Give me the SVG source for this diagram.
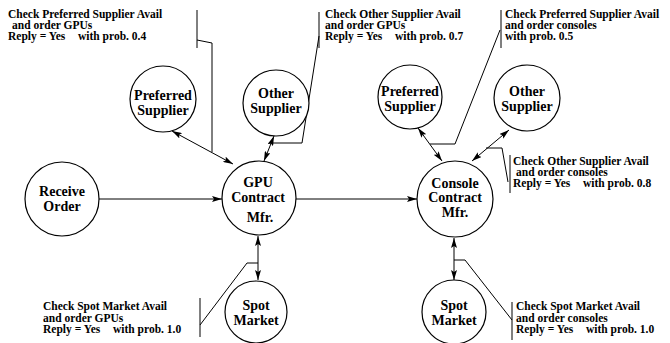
<svg xmlns="http://www.w3.org/2000/svg" width="670" height="343" viewBox="0 0 670 343">
<style>
.node circle{fill:#fff;stroke:#000;stroke-width:1.2}
.lbl{font-family:"Liberation Serif","Times New Roman",serif;font-weight:bold;font-size:14px;text-anchor:middle;fill:#000}
.note{font-family:"Liberation Serif","Times New Roman",serif;font-weight:bold;font-size:11.5px;fill:#000}
.conn line,.conn polyline{fill:none;stroke:#000;stroke-width:1}
.bar{stroke:#222;stroke-width:1.4}
</style>
<defs>
<marker id="ah" viewBox="0 0 10 6" refX="10" refY="3" markerWidth="10" markerHeight="6" markerUnits="userSpaceOnUse" orient="auto-start-reverse">
<path d="M0,0 L10,3 L0,6 L2,3 z" fill="#000"/>
</marker>
</defs>
<rect width="670" height="343" fill="#fff"/>
<g id="connectors" class="conn">
<line x1="99" y1="199" x2="222" y2="199" marker-end="url(#ah)"/>
<line x1="296" y1="199" x2="417" y2="199" marker-end="url(#ah)"/>
<line x1="172" y1="131" x2="233" y2="164" marker-start="url(#ah)" marker-end="url(#ah)"/>
<line x1="274" y1="136" x2="264" y2="161" marker-start="url(#ah)" marker-end="url(#ah)"/>
<line x1="258" y1="236" x2="258" y2="280" marker-start="url(#ah)" marker-end="url(#ah)"/>
<line x1="418" y1="128" x2="442" y2="161" marker-start="url(#ah)" marker-end="url(#ah)"/>
<line x1="509" y1="130" x2="472" y2="161" marker-start="url(#ah)" marker-end="url(#ah)"/>
<line x1="454" y1="238" x2="454" y2="280" marker-start="url(#ah)" marker-end="url(#ah)"/>
<line class="bar" x1="197" y1="10" x2="197" y2="48"/>
<polyline points="197,40 212,43 212,152"/>
<line class="bar" x1="319" y1="12" x2="319" y2="48"/>
<polyline points="319,36 302,143 269,143"/>
<line class="bar" x1="501" y1="10" x2="501" y2="48"/>
<polyline points="500,30 455,144 430,144"/>
<line class="bar" x1="510" y1="155" x2="510" y2="193"/>
<polyline points="486,148 502,148 508,182"/>
<line class="bar" x1="200" y1="298" x2="200" y2="337"/>
<polyline points="258,263 247,263 200,325"/>
<line class="bar" x1="512" y1="302" x2="512" y2="340"/>
<polyline points="454,260 465,260 512,320"/>
</g>
<g id="receive-order" class="node"><circle cx="62" cy="199" r="37"/><text class="lbl" x="62" y="196">Receive</text><text class="lbl" x="62" y="211">Order</text></g>
<g id="gpu-mfr" class="node"><circle cx="259" cy="198" r="37"/><text class="lbl" x="258" y="187">GPU</text><text class="lbl" x="258" y="202">Contract</text><text class="lbl" x="260" y="222">Mfr.</text></g>
<g id="console-mfr" class="node"><circle cx="455" cy="199" r="38"/><text class="lbl" x="455" y="188">Console</text><text class="lbl" x="455" y="202">Contract</text><text class="lbl" x="455" y="217">Mfr.</text></g>
<g id="gpu-preferred" class="node"><circle cx="163" cy="99" r="33"/><text class="lbl" x="163" y="100">Preferred</text><text class="lbl" x="163" y="115">Supplier</text></g>
<g id="gpu-other" class="node"><circle cx="276" cy="103" r="33"/><text class="lbl" x="276" y="98">Other</text><text class="lbl" x="276" y="113">Supplier</text></g>
<g id="console-preferred" class="node"><circle cx="410" cy="97" r="32"/><text class="lbl" x="410" y="96">Preferred</text><text class="lbl" x="410" y="111">Supplier</text></g>
<g id="console-other" class="node"><circle cx="527" cy="98" r="33"/><text class="lbl" x="527" y="96">Other</text><text class="lbl" x="527" y="111">Supplier</text></g>
<g id="gpu-spot" class="node"><circle cx="256" cy="312" r="31"/><text class="lbl" x="256" y="310">Spot</text><text class="lbl" x="256" y="325">Market</text></g>
<g id="console-spot" class="node"><circle cx="454" cy="312" r="32"/><text class="lbl" x="454" y="310">Spot</text><text class="lbl" x="454" y="325">Market</text></g>
<g id="notes">
<text class="note" x="8" y="18">Check Preferred Supplier Avail</text>
<text class="note" x="12" y="29">and order GPUs</text>
<text class="note" x="8" y="40">Reply = Yes<tspan x="78">with prob. 0.4</tspan></text>
<text class="note" x="325" y="18">Check Other Supplier Avail</text>
<text class="note" x="325" y="29">and order GPUs</text>
<text class="note" x="325" y="40">Reply = Yes<tspan x="395">with prob. 0.7</tspan></text>
<text class="note" x="505" y="18">Check Preferred Supplier Avail</text>
<text class="note" x="505" y="29">and order consoles</text>
<text class="note" x="505" y="40">with prob. 0.5</text>
<text class="note" x="513" y="165">Check Other Supplier Avail</text>
<text class="note" x="516" y="176">and order consoles</text>
<text class="note" x="513" y="187">Reply = Yes<tspan x="583">with prob. 0.8</tspan></text>
<text class="note" x="43" y="310">Check Spot Market Avail</text>
<text class="note" x="43" y="322">and order GPUs</text>
<text class="note" x="43" y="333">Reply = Yes<tspan x="113">with prob. 1.0</tspan></text>
<text class="note" x="516" y="310">Check Spot Market Avail</text>
<text class="note" x="516" y="322">and order consoles</text>
<text class="note" x="516" y="333">Reply = Yes<tspan x="586">with prob. 1.0</tspan></text>
</g>
</svg>
